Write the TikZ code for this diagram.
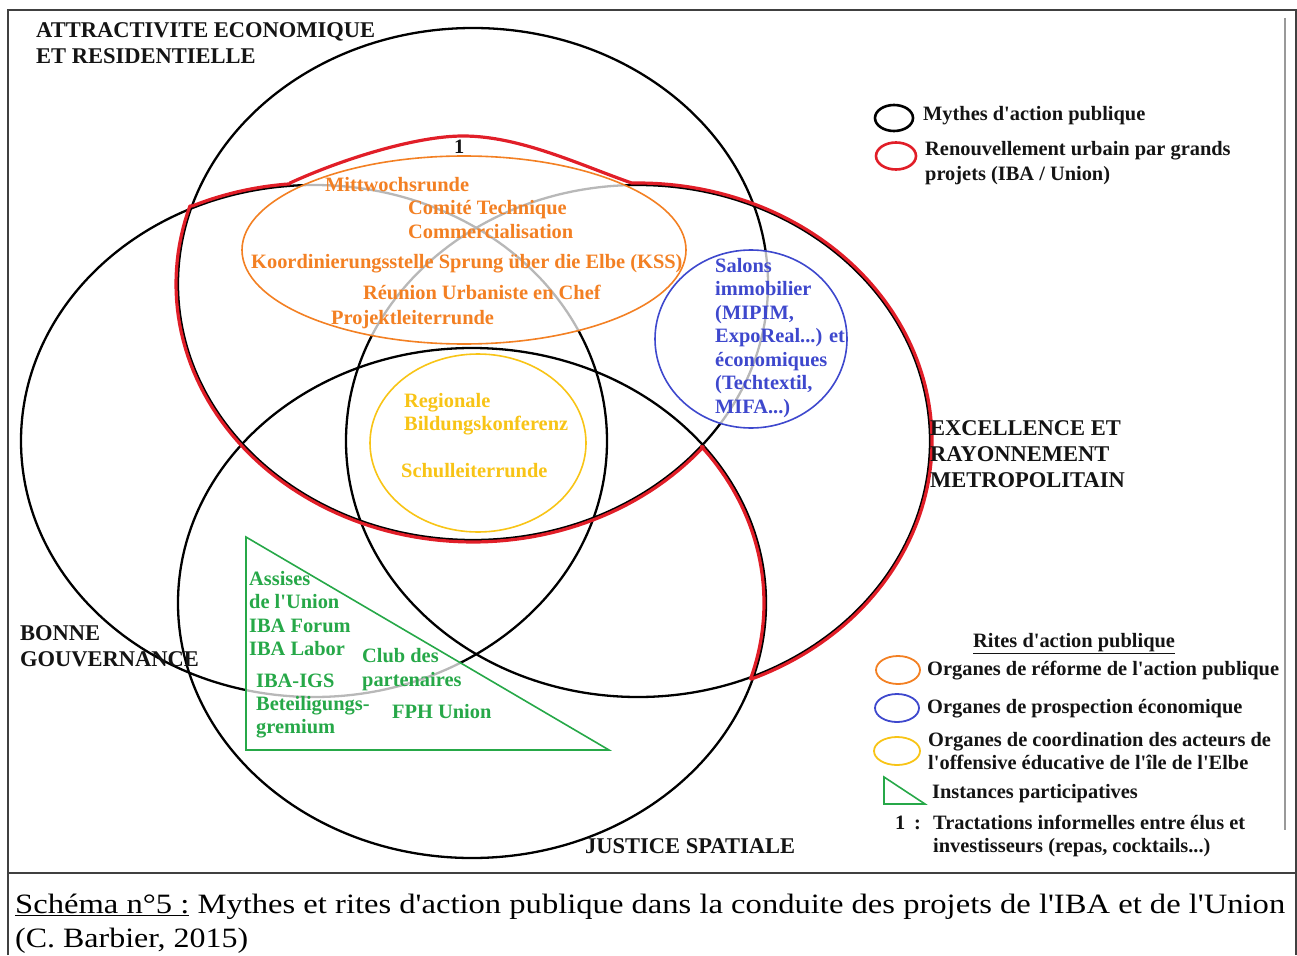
\documentclass[tikz,border=0pt]{standalone}
\usepackage{fontspec}
\setmainfont{Liberation Serif}
\usepackage{graphicx}
\newcommand{\ap}{\textquotesingle}
\definecolor{mythred}{RGB}{225,30,40}
\definecolor{riteorange}{RGB}{243,128,35}
\definecolor{riteblue}{RGB}{62,72,205}
\definecolor{riteyellow}{RGB}{248,196,22}
\definecolor{ritegreen}{RGB}{38,168,72}
\definecolor{ink}{RGB}{20,20,20}
\begin{document}
\begin{tikzpicture}[x=1pt,y=-1pt,
  frame/.style={draw=black!75,line width=1.2pt},
  myth/.style={draw=black,line width=2.3pt},
  project/.style={draw=mythred,line width=3.2pt,line join=round},
  rite/.style={line width=1.6pt,fill=white,fill opacity=0.72},
  txt/.style={anchor=base west,inner sep=0pt,font=\bfseries\fontsize{20.4}{24}\selectfont},
  head/.style={anchor=base west,inner sep=0pt,font=\bfseries\fontsize{22.5}{26}\selectfont,text=ink},
  legtxt/.style={txt,text=ink},
  orangetxt/.style={txt,text=riteorange},
  bluetxt/.style={txt,text=riteblue},
  yellowtxt/.style={txt,text=riteyellow},
  greentxt/.style={txt,text=ritegreen}]
\useasboundingbox (0,0) rectangle (1297,955);

% outer frame and caption separator
\draw[frame] (8,955) -- (8,10) -- (1296,10) -- (1296,955);
\draw[frame] (8,873) -- (1296,873);
\draw[black!40,line width=2.5pt] (1285,18) -- (1285,830);

% the four myths
\draw[myth] (473,284) ellipse [x radius=295, y radius=256];
\draw[myth] (314,441) ellipse [x radius=293, y radius=256];
\draw[myth] (638,441) ellipse [x radius=292, y radius=256];
\draw[myth] (472,603) ellipse [x radius=294, y radius=255];

% outline of the urban renewal projects
\draw[project]
  plot[domain=197.6:39.2,samples=90] ({473+297*cos(\x)},{284+258*sin(\x)})
  -- plot[domain=-38.2:17.4,samples=40] ({472+292*cos(\x)},{603+253*sin(\x)})
  -- plot[domain=67.4:-91.2,samples=110] ({638+294*cos(\x)},{441+258*sin(\x)})
  .. controls (580,165) and (520,136) .. (463,136)
  .. controls (415,136) and (340,160) .. (290,183)
  -- plot[domain=-94.7:-114.3,samples=20] ({314+295*cos(\x)},{441+258*sin(\x)})
  -- cycle;

% rites
\draw[rite,draw=riteorange] (464,250) ellipse [x radius=222, y radius=94];
\draw[rite,draw=riteblue] (751,339) ellipse [x radius=96, y radius=89];
\draw[rite,draw=riteyellow] (478,443) ellipse [x radius=108, y radius=89];
\draw[rite,draw=ritegreen] (246,537) -- (246,750) -- (609,750) -- cycle;

% myth headings
\node[head] (attr1) at (36,38) {ATTRACTIVITE ECONOMIQUE};
\node[head] (attr2) at (36,64) {ET RESIDENTIELLE};
\node[head] (exc1) at (930,435) {EXCELLENCE ET};
\node[head] (exc2) at (930,461) {RAYONNEMENT};
\node[head] (exc3) at (930,487) {METROPOLITAIN};
\node[head] (gov1) at (20,640) {BONNE};
\node[head] (gov2) at (20,666) {GOUVERNANCE};
\node[head] (just) at (585,853) {JUSTICE SPATIALE};
\node[legtxt] (one) at (454,153) {1};

% reform bodies
\node[orangetxt] (o1) at (325,191) {Mittwochsrunde};
\node[orangetxt] (o2) at (408,214) {Comité Technique};
\node[orangetxt] (o3) at (408,238) {Commercialisation};
\node[orangetxt] (o4) at (251,268) {Koordinierungsstelle Sprung über die Elbe (KSS)};
\node[orangetxt] (o5) at (363,299) {Réunion Urbaniste en Chef};
\node[orangetxt] (o6) at (331,324) {Projektleiterrunde};

% economic prospection
\node[bluetxt] (b1) at (715,272) {Salons};
\node[bluetxt] (b2) at (715,295) {immobilier};
\node[bluetxt] (b3) at (715,319) {(MIPIM,};
\node[bluetxt] (b4) at (715,342) {ExpoReal...) et};
\node[bluetxt] (b5) at (715,366) {économiques};
\node[bluetxt] (b6) at (715,389) {(Techtextil,};
\node[bluetxt] (b7) at (715,413) {MIFA...)};

% education coordination
\node[yellowtxt] (y1) at (404,407) {Regionale};
\node[yellowtxt] (y2) at (404,430) {Bildungskonferenz};
\node[yellowtxt] (y3) at (401,477) {Schulleiterrunde};

% participative bodies
\node[greentxt] (g1) at (249,585) {Assises};
\node[greentxt] (g2) at (249,608) {de l\ap Union};
\node[greentxt] (g3) at (249,632) {IBA Forum};
\node[greentxt] (g4) at (249,655) {IBA Labor};
\node[greentxt] (g5) at (362,662) {Club des};
\node[greentxt] (g6) at (362,686) {partenaires};
\node[greentxt] (g7) at (256,687) {IBA-IGS};
\node[greentxt] (g8) at (256,710) {Beteiligungs-};
\node[greentxt] (g9) at (256,733) {gremium};
\node[greentxt] (g10) at (392,718) {FPH Union};

% legend: myths
\draw[black,line width=2.6pt] (894,118) ellipse [x radius=19, y radius=13];
\node[legtxt] (lm) at (923,121) {Mythes d\ap action publique};
\draw[mythred,line width=2.6pt] (896,156) ellipse [x radius=20, y radius=13.5];
\node[legtxt] (lr1) at (925,155) {Renouvellement urbain par grands};
\node[legtxt] (lr2) at (925,180) {projets (IBA / Union)};

% legend: rites
\node[legtxt] (lt) at (973,647) {\underline{Rites d\ap action publique}};
\draw[riteorange,line width=1.8pt] (898,670) ellipse [x radius=22, y radius=14];
\node[legtxt] (lo) at (927,675) {Organes de réforme de l\ap action publique};
\draw[riteblue,line width=1.8pt] (897,708) ellipse [x radius=22, y radius=14];
\node[legtxt] (lb) at (927,713) {Organes de prospection économique};
\draw[riteyellow,line width=1.8pt] (897,751) ellipse [x radius=23, y radius=14];
\node[legtxt] (ly1) at (928,746) {Organes de coordination des acteurs de};
\node[legtxt] (ly2) at (928,769) {l\ap offensive éducative de l\ap île de l\ap Elbe};
\draw[ritegreen,line width=1.6pt] (884,777) -- (884,804) -- (925,804) -- cycle;
\node[legtxt] (lg) at (932,798) {Instances participatives};
\node[legtxt] (ln) at (895,829) {1};
\node[legtxt] (lc) at (914,829) {:};
\node[legtxt] (li1) at (933,829) {Tractations informelles entre élus et};
\node[legtxt] (li2) at (933,852) {investisseurs (repas, cocktails...)};

% caption
\node[anchor=base west,inner sep=0pt] (cap1) at (15,913)
  {\resizebox{1270pt}{\height}{\fontsize{28}{30}\selectfont\underline{Schéma n°5 :} Mythes et rites d\ap action publique dans la conduite des projets de l\ap IBA et de l\ap Union}};
\node[anchor=base west,inner sep=0pt] (cap2) at (15,947)
  {\resizebox{233pt}{\height}{\fontsize{28}{30}\selectfont (C. Barbier, 2015)}};
\end{tikzpicture}
\end{document}
